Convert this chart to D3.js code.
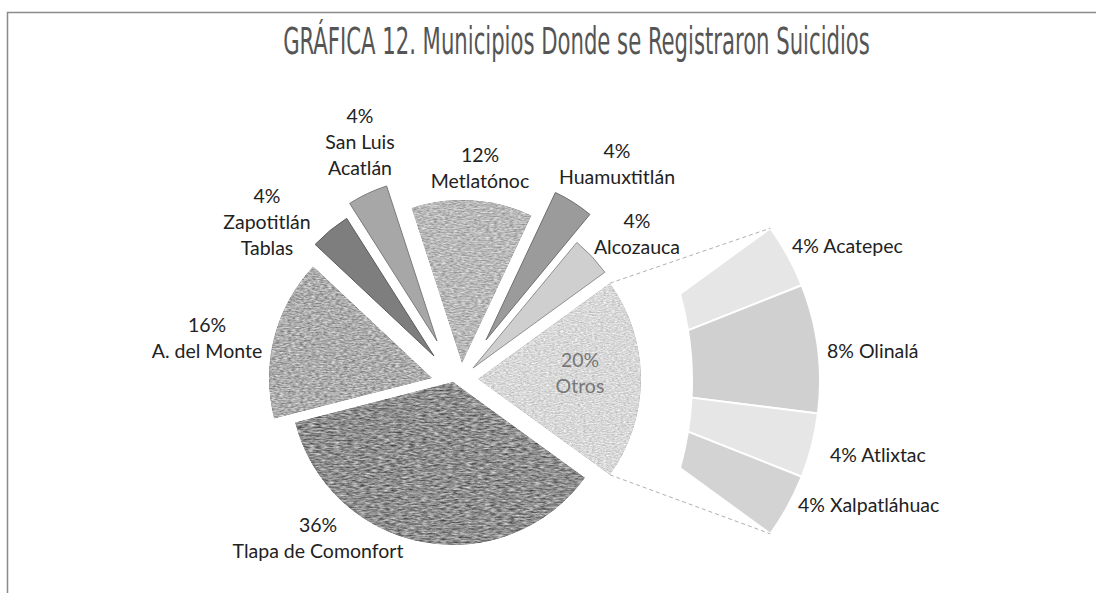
<!DOCTYPE html>
<html>
<head>
<meta charset="utf-8">
<script src="https://cdn.jsdelivr.net/npm/d3@7"></script>
<style>
  html, body { margin: 0; padding: 0; background: #fff; }
  svg { display: block; }
</style>
</head>
<body>
<svg id="chart" width="1096" height="593"></svg>
<script>
// ---- data ----
const mainCategories = ["Tlapa de Comonfort", "A. del Monte", "Zapotitlán\nTablas", "San Luis\nAcatlán",
                        "Metlatónoc", "Huamuxtitlán", "Alcozauca", "Otros"];
const mainValues = [36, 16, 4, 4, 12, 4, 4, 20];
const otherCategories = ["Acatepec", "Olinalá", "Atlixtac", "Xalpatláhuac"];
const otherValues = [4, 8, 4, 4];
const titleText = "GRÁFICA 12. Municipios Donde se Registraron Suicidios";

// ---- layout & styles ----
const W = 1096, H = 593;
const deg = Math.PI / 180;
const center = { x: 453, y: 381 };
const radius = 163;
// per-slice explode shift (px)
const explode = [[0, 1], [-21, -3], [-19, -25], [-16, -40], [9, -18], [33, -41], [20, -13], [25, -2]];
const fills = ["#8e8e8e", "#acacac", "#7e7e7e", "#a7a7a7", "#b9b9b9", "#9b9b9b", "#cfcfcf", "#d8d8d8"];
const strokes = [null, null, "#5a5a5a", "#7a7a7a", null, "#6e6e6e", "#8f8f8f", null];
const grain = [0.8, 0.6, 0, 0, 0.5, 0, 0, 0.35];
const grainFreq = ["0.16 0.6", "0.25 0.75", null, null, "0.25 0.75", null, null, "0.35 0.9"];
const labelPos = [[318, 532], [207, 332], [267, 203], [360, 123], [480, 162], [617, 158], [637, 228], [580, 367]];
const labelColor = ["#222", "#222", "#222", "#222", "#222", "#222", "#222", "#777"];
const lineH = 26;
const title = { cx: 576.5, y: 54, width: 587, size: 37 };

// secondary (breakdown of "Otros")
const secOrigin = { x: 560, y: 381 };
const secOuter = 260;
const secInnerCircle = { x: 371, y: 381, r: 321 };
const secFills = ["#e6e6e6", "#d0d0d0", "#e6e6e6", "#d3d3d3"];
const secLabelPos = [[792, 253], [827, 358], [830, 462], [798, 512]];

const svg = d3.select("#chart");
const defs = svg.append("defs");

// frame
svg.append("path")
  .attr("d", `M7.5,${H} V12.5 H${W}`)
  .attr("fill", "none").attr("stroke", "#8a8a8a").attr("stroke-width", 1.5);

// title: a narrow face, squeezed horizontally to the title width
const titleNode = svg.append("text")
  .attr("text-anchor", "middle")
  .attr("font-family", "'Liberation Sans Narrow', 'DejaVu Sans Condensed', 'Roboto', sans-serif")
  .attr("font-stretch", "condensed")
  .attr("font-weight", 300)
  .attr("font-size", title.size)
  .attr("fill", "#555")
  .text(titleText);
const natural = titleNode.node().getComputedTextLength();
titleNode.attr("transform", `translate(${title.cx},${title.y}) scale(${Math.min(1, title.width / natural)},1)`);

// grain filters for the textured slices
grain.forEach((c, i) => {
  if (!c) return;
  const f = defs.append("filter").attr("id", "grain" + i)
    .attr("color-interpolation-filters", "sRGB")
    .attr("x", "-5%").attr("y", "-5%").attr("width", "110%").attr("height", "110%");
  f.append("feTurbulence").attr("type", "fractalNoise")
    .attr("baseFrequency", grainFreq[i]).attr("numOctaves", 3).attr("seed", 7 + i * 5)
    .attr("result", "noise");
  f.append("feColorMatrix").attr("in", "noise").attr("type", "matrix")
    .attr("values", "1 0 0 0 0  1 0 0 0 0  1 0 0 0 0  0 0 0 0 1").attr("result", "gray");
  f.append("feComposite").attr("in", "SourceGraphic").attr("in2", "gray")
    .attr("operator", "arithmetic").attr("k1", 0).attr("k2", 1).attr("k3", c).attr("k4", -c / 2)
    .attr("result", "mix");
  f.append("feComposite").attr("in", "mix").attr("in2", "SourceGraphic").attr("operator", "in");
});

// main pie
const pie = d3.pie().sort(null).value(d => d)
  .startAngle(126 * deg).endAngle(486 * deg);
const arcs = pie(mainValues);
const arc = d3.arc().innerRadius(0).outerRadius(radius);

svg.append("g").selectAll("path").data(arcs).join("path")
  .attr("transform", (d, i) => `translate(${center.x + explode[i][0]},${center.y + explode[i][1]})`)
  .attr("d", arc)
  .attr("fill", (d, i) => fills[i])
  .attr("stroke", (d, i) => strokes[i] || "none")
  .attr("stroke-width", 1)
  .attr("filter", (d, i) => grain[i] ? `url(#grain${i})` : null);

// secondary breakdown of "Otros"
const otros = arcs[7];
const secPie = d3.pie().sort(null).value(d => d)
  .startAngle(otros.startAngle).endAngle(otros.endAngle);
const secArcs = secPie(otherValues);

function rayPoint(a, r) {
  return [secOrigin.x + r * Math.sin(a), secOrigin.y - r * Math.cos(a)];
}
function innerPoint(a) {
  const s = Math.sin(a), c = -Math.cos(a);
  const ox = secOrigin.x - secInnerCircle.x, oy = secOrigin.y - secInnerCircle.y;
  const b = ox * s + oy * c;
  const k = ox * ox + oy * oy - secInnerCircle.r * secInnerCircle.r;
  const t = -b + Math.sqrt(b * b - k);
  return [secOrigin.x + t * s, secOrigin.y + t * c];
}
function secPath(d) {
  const p = d3.path();
  const i0 = innerPoint(d.startAngle), i1 = innerPoint(d.endAngle);
  const o0 = rayPoint(d.startAngle, secOuter);
  p.moveTo(i0[0], i0[1]);
  p.lineTo(o0[0], o0[1]);
  p.arc(secOrigin.x, secOrigin.y, secOuter, d.startAngle - Math.PI / 2, d.endAngle - Math.PI / 2, false);
  p.lineTo(i1[0], i1[1]);
  const angI = q => Math.atan2(q[1] - secInnerCircle.y, q[0] - secInnerCircle.x);
  p.arc(secInnerCircle.x, secInnerCircle.y, secInnerCircle.r, angI(i1), angI(i0), true);
  p.closePath();
  return p.toString();
}

svg.append("g").selectAll("path").data(secArcs).join("path")
  .attr("d", secPath)
  .attr("fill", (d, i) => secFills[i])
  .attr("stroke", "#fff").attr("stroke-width", 2).attr("stroke-linejoin", "round");

// connector lines from "Otros" to its breakdown
const oc = { x: center.x + explode[7][0], y: center.y + explode[7][1] };
[otros.startAngle, otros.endAngle].forEach(a => {
  const from = [oc.x + radius * Math.sin(a), oc.y - radius * Math.cos(a)];
  const to = rayPoint(a, secOuter);
  svg.append("line")
    .attr("x1", from[0]).attr("y1", from[1]).attr("x2", to[0]).attr("y2", to[1])
    .attr("stroke", "#b0b0b0").attr("stroke-width", 1).attr("stroke-dasharray", "4,3");
});

// labels
const font = "Lato, 'Noto Sans', sans-serif";
const mainLabels = svg.append("g").attr("font-family", font).attr("font-size", 19.5);
arcs.forEach((d, i) => {
  const lines = [d.data + "%"].concat(mainCategories[i].split("\n"));
  const t = mainLabels.append("text")
    .attr("text-anchor", "middle")
    .attr("fill", labelColor[i]);
  lines.forEach((ln, j) => {
    t.append("tspan").attr("x", labelPos[i][0]).attr("y", labelPos[i][1] + j * lineH).text(ln);
  });
});

const secLabels = svg.append("g").attr("font-family", font).attr("font-size", 19.5);
secArcs.forEach((d, i) => {
  secLabels.append("text")
    .attr("x", secLabelPos[i][0]).attr("y", secLabelPos[i][1])
    .attr("fill", "#222")
    .text(`${d.data}% ${otherCategories[i]}`);
});
</script>
</body>
</html>
